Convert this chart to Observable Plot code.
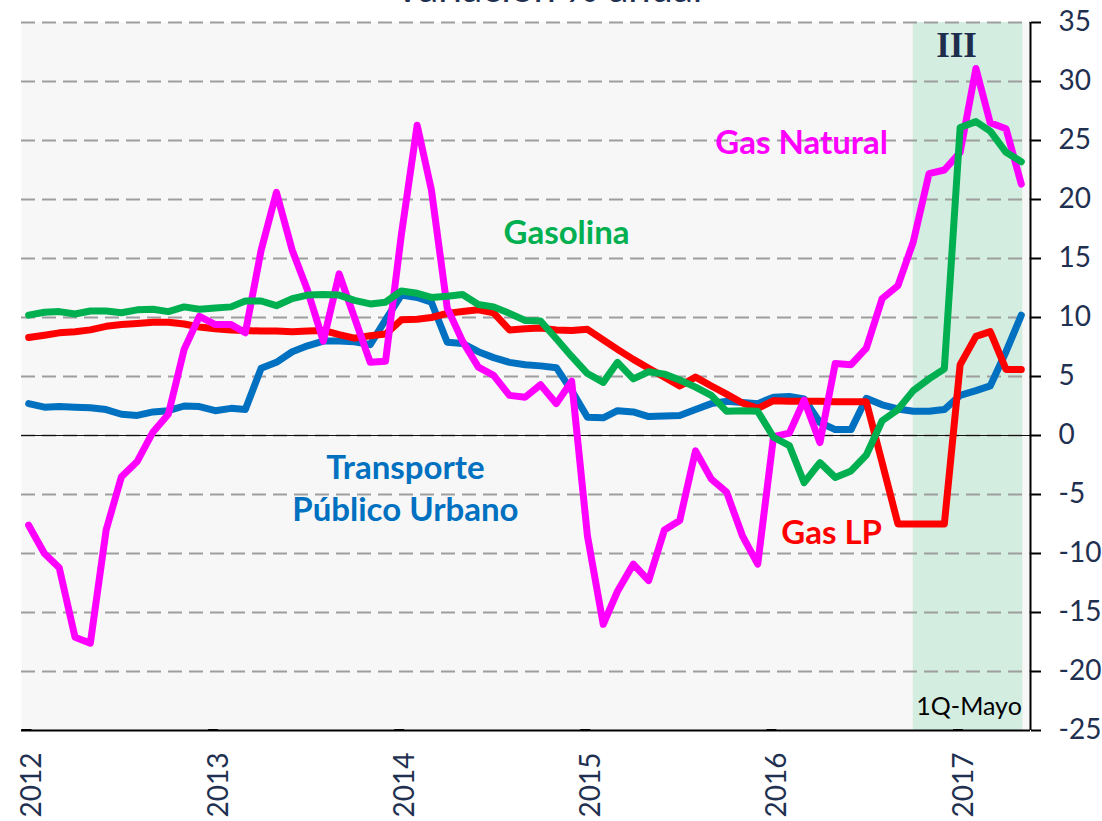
<!DOCTYPE html>
<html>
<head>
<meta charset="utf-8">
<script src="https://cdn.jsdelivr.net/npm/d3@7"></script>
<script src="https://cdn.jsdelivr.net/npm/@observablehq/plot@0.6"></script>
<style>
  body { margin: 0; background: #ffffff; }
  #chart svg { display: block; }
</style>
</head>
<body>
<div id="chart"></div>
<script>
// ---- Data (monthly, Jan 2012 – May 2017), variación % anual ----
const firstMonth = "2012-01";
const lastMonth = "2017-05";

const transporte = [
  2.7, 2.4, 2.45, 2.4, 2.35, 2.2, 1.8, 1.7, 2.0, 2.1, 2.5, 2.45,
  2.1, 2.3, 2.2, 5.7, 6.2, 7.1, 7.6, 8.0, 8.0, 7.95, 7.7, 9.8,
  11.9, 11.7, 11.3, 7.9, 7.8, 7.1, 6.6, 6.2, 6.0, 5.9, 5.75, 3.8,
  1.55, 1.5, 2.1, 2.0, 1.6, 1.65, 1.7, 2.2, 2.7, 2.9, 2.8, 2.7,
  3.25, 3.3, 3.1, 1.1, 0.5, 0.5, 3.15, 2.6, 2.25, 2.05, 2.05, 2.2,
  3.4, 3.8, 4.2, 7.1, 10.2
];
const gasLP = [
  8.3, 8.5, 8.7, 8.8, 8.95, 9.25, 9.4, 9.5, 9.6, 9.6, 9.45, 9.2,
  9.05, 8.95, 8.9, 8.85, 8.85, 8.8, 8.85, 8.9, 8.55, 8.25, 8.45, 8.6,
  9.8, 9.85, 10.0, 10.35, 10.5, 10.65, 10.4, 8.95, 9.05, 9.1, 8.95, 8.9,
  9.0, 8.1, 7.3, 6.45, 5.7, 4.95, 4.2, 4.95, 4.2, 3.5, 2.75, 2.3,
  2.95, 2.9, 2.9, 2.9, 2.85, 2.85, 2.85, -2.3, -7.5, -7.5, -7.5, -7.5,
  6.0, 8.4, 8.8, 5.6, 5.6
];
const gasNatural = [
  -7.6, -10.0, -11.2, -17.1, -17.6, -8.0, -3.5, -2.2, 0.3, 1.8, 7.3, 10.1,
  9.4, 9.4, 8.7, 15.7, 20.6, 15.7, 12.3, 8.0, 13.7, 10.0, 6.2, 6.3,
  17.0, 26.3, 20.8, 10.8, 8.0, 5.8, 5.1, 3.4, 3.25, 4.3, 2.7, 4.6,
  -8.5, -16.0, -13.2, -10.9, -12.3, -8.0, -7.2, -1.3, -3.7, -4.8, -8.5, -10.9,
  -0.1, 0.2, 3.0, -0.6, 6.1, 6.0, 7.4, 11.6, 12.7, 16.4, 22.2, 22.5,
  24.0, 31.1, 26.5, 26.0, 21.3
];
const gasolina = [
  10.2, 10.45, 10.5, 10.3, 10.55, 10.55, 10.4, 10.65, 10.7, 10.5, 10.9, 10.7,
  10.8, 10.9, 11.4, 11.4, 11.0, 11.6, 11.9, 11.95, 11.9, 11.45, 11.15, 11.3,
  12.25, 12.05, 11.7, 11.8, 11.95, 11.1, 10.9, 10.35, 9.75, 9.7, 8.2, 6.7,
  5.25, 4.5, 6.2, 4.8, 5.4, 5.2, 4.7, 4.1, 3.4, 2.05, 2.1, 2.05,
  -0.15, -0.85, -4.0, -2.3, -3.55, -3.0, -1.65, 1.25, 2.2, 3.8, 4.8, 5.65,
  26.1, 26.6, 25.8, 24.0, 23.2
];

const seriesNames = ["Transporte Público Urbano", "Gas LP", "Gas Natural", "Gasolina"];
const seriesColors = ["#0070c0", "#ff0000", "#ff00ff", "#00b050"];
const seriesValues = [transporte, gasLP, gasNatural, gasolina];

const yTicks = [-25, -20, -15, -10, -5, 0, 5, 10, 15, 20, 25, 30, 35];
const gridValues = [-20, -15, -10, -5, 0, 5, 10, 15, 20, 25, 30, 35];
const yearTicks = [2012, 2013, 2014, 2015, 2016, 2017];
const shadePeriod = { start: "2016-10-15", end: "2017-05-18", label: "III", note: "1Q-Mayo" };
const titleText = "Variación % anual";

// ---- Build table ----
const parseMonth = d3.utcParse("%Y-%m");
const months = d3.utcMonth.range(parseMonth(firstMonth), d3.utcMonth.offset(parseMonth(lastMonth), 1));
const midMonth = m => d3.utcDay.offset(m, 14);
const rows = [];
seriesNames.forEach((name, s) => {
  months.forEach((m, i) => rows.push({ series: name, date: midMonth(m), value: seriesValues[s][i] }));
});

const parseDay = d3.utcParse("%Y-%m-%d");
const xStart = parseDay("2012-01-01");
const xEnd = parseDay("2017-06-02");
const yearDates = yearTicks.map(y => new Date(Date.UTC(y, 0, 1)));

const labels = [
  { text: "Gas Natural", date: "2016-03-10", y: 25.0, color: "#ff00ff" },
  { text: "Gasolina", date: "2014-12-05", y: 17.4, color: "#00b050" },
  { text: "Transporte\nPúblico Urbano", date: "2014-01-23", y: -4.3, color: "#0070c0" },
  { text: "Gas LP", date: "2016-05-08", y: -8.0, color: "#ff0000" }
].map(d => ({ ...d, date: parseDay(d.date) }));

const navy = "#1f3050";

const chart = Plot.plot({
  width: 1102,
  height: 821,
  marginLeft: 21,
  marginRight: 72,
  marginTop: 22,
  marginBottom: 91,
  style: { fontFamily: "Lato, 'Open Sans', sans-serif", background: "#ffffff" },
  x: { type: "utc", domain: [xStart, xEnd] },
  y: { domain: [-25, 35] },
  color: { domain: seriesNames, range: seriesColors },
  marks: [
    Plot.frame({ fill: "#f7f7f7", stroke: null }),
    Plot.rect([shadePeriod], {
      x1: d => parseDay(d.start), x2: d => parseDay(d.end), y1: -25, y2: 35, fill: "#d3ede0"
    }),
    Plot.ruleY(gridValues, { stroke: "#9e9e9e", strokeWidth: 2, strokeDasharray: "14,7" }),
    Plot.ruleY([0], { stroke: "#111", strokeWidth: 1.2 }),
    Plot.line(rows, {
      x: "date", y: "value", z: "series", stroke: "series",
      strokeWidth: 7, strokeLinejoin: "round", strokeLinecap: "round"
    }),
    Plot.ruleY([-25], { stroke: "#000", strokeWidth: 2 }),
    Plot.ruleX([xEnd], { stroke: "#000", strokeWidth: 2 }),
    Plot.axisY({
      anchor: "right", ticks: yTicks, tickSize: 10, tickPadding: 18,
      tickFormat: d => String(d),
      fontSize: 28, fill: navy, stroke: "#000", strokeWidth: 2, label: null
    }),
    Plot.axisX({
      ticks: yearDates, tickFormat: d3.utcFormat("%Y"), rotate: -90, textAnchor: "end",
      tickSize: 10, tickPadding: 12, fontSize: 28, fill: navy, stroke: "#000", strokeWidth: 2, label: null
    }),
    Plot.text(labels, {
      x: "date", y: "y", text: "text", fill: "color",
      fontSize: 33, fontWeight: "bold", lineHeight: 1.3, textAnchor: "middle"
    }),
    Plot.text([shadePeriod], {
      x: () => parseDay("2017-01-08"), y: 33.0, text: "label",
      fontFamily: "'Liberation Serif', 'DejaVu Serif', serif", fontWeight: "bold", fontSize: 35, fill: "#1f2d4d"
    }),
    Plot.text([shadePeriod], {
      x: () => parseDay("2017-05-16"), y: -23.0, text: "note",
      fontSize: 25, fill: "#000", textAnchor: "end"
    }),
    Plot.text([titleText], {
      x: () => parseDay("2014-10-30"), frameAnchor: "top", text: d => d,
      dy: -21, lineAnchor: "bottom", fontSize: 40, fill: navy
    })
  ]
});

document.getElementById("chart").appendChild(chart);
</script>
</body>
</html>
